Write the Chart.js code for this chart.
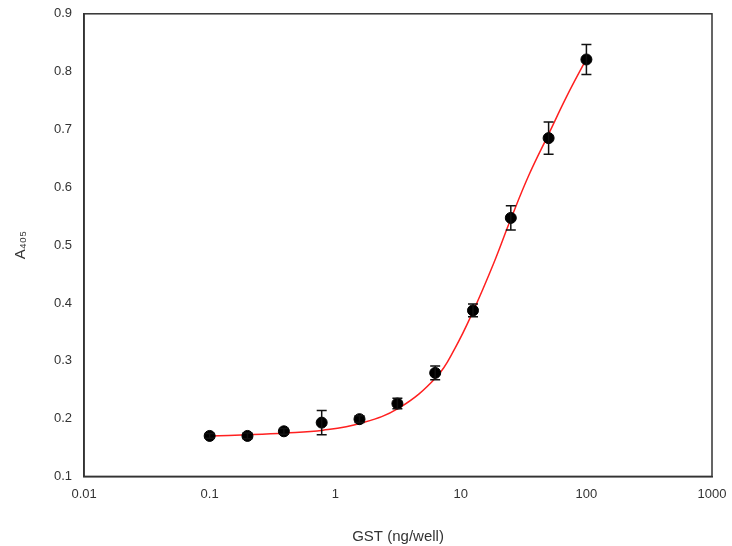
<!DOCTYPE html>
<html>
<head>
<meta charset="utf-8">
<script src="https://cdn.jsdelivr.net/npm/chart.js@4/dist/chart.umd.min.js"></script>
<style>
  html, body { margin: 0; padding: 0; background: #fff; }
  #wrap { width: 732px; height: 546px; }
</style>
</head>
<body>
<div id="wrap"><canvas id="mycanvas"></canvas></div>
<script>
// measured data (GST ng/well vs A405)
var gst = [0.1, 0.2, 0.39, 0.78, 1.56, 3.125, 6.25, 12.5, 25, 50, 100];
var a405 = [0.170, 0.170, 0.178, 0.193, 0.199, 0.226, 0.279, 0.387, 0.547, 0.685, 0.821];
var err = [0.004, 0.005, 0.005, 0.021, 0.006, 0.009, 0.012, 0.011, 0.021, 0.028, 0.026];

// fitted curve
var fitX = [0.1, 0.2, 0.4, 0.8, 1.6, 3.2, 6.4, 9, 12.5, 18, 25, 35, 50, 70, 100];
var fitY = [0.170, 0.172, 0.175, 0.180, 0.192, 0.218, 0.272, 0.322, 0.385, 0.465, 0.545, 0.622, 0.692, 0.758, 0.822];

var yTicks = [0.1, 0.2, 0.3, 0.4, 0.5, 0.6, 0.7, 0.8, 0.9];
var xTicks = [0.01, 0.1, 1, 10, 100, 1000];

var pts = [];
for (var i in gst) {
	pts.push({x: gst[i], y: a405[i]});
}
var fit = [];
for (var j in fitX) {
	fit.push({x: fitX[j], y: fitY[j]});
}

var errorBars = {
	id: 'errorBars',
	afterDatasetsDraw: function(chart) {
		var ctx = chart.ctx;
		var xs = chart.scales.x, ys = chart.scales.y;
		ctx.save();
		ctx.strokeStyle = '#111';
		ctx.lineWidth = 1.5;
		for (var i = 0; i < gst.length; i++) {
			var px = xs.getPixelForValue(gst[i]);
			var top = ys.getPixelForValue(a405[i] + err[i]);
			var bot = ys.getPixelForValue(a405[i] - err[i]);
			ctx.beginPath();
			ctx.moveTo(px, top); ctx.lineTo(px, bot);
			ctx.moveTo(px - 5, top); ctx.lineTo(px + 5, top);
			ctx.moveTo(px - 5, bot); ctx.lineTo(px + 5, bot);
			ctx.stroke();
		}
		ctx.restore();
	}
};

var frame = {
	id: 'frame',
	afterDraw: function(chart) {
		var a = chart.chartArea, ctx = chart.ctx;
		ctx.save();
		ctx.strokeStyle = '#333';
		ctx.lineWidth = 1.5;
		ctx.strokeRect(a.left, a.top, a.right - a.left, a.bottom - a.top);
		ctx.restore();
	}
};

var ctx1 = document.getElementById('mycanvas');
var chart = new Chart(ctx1, {
	type: 'scatter',
	data: {
		datasets: [
			{
				label: 'A405',
				data: pts,
				backgroundColor: '#000',
				borderColor: '#000',
				pointRadius: 5.5,
				order: 1
			},
			{
				label: 'fit',
				type: 'line',
				data: fit,
				showLine: true,
				borderColor: '#ff2020',
				borderWidth: 1.5,
				pointRadius: 0,
				fill: false,
				tension: 0.4,
				order: 2
			}
		]
	},
	options: {
		responsive: true,
		maintainAspectRatio: false,
		animation: false,
		layout: { padding: { top: 13, right: 20, left: 8, bottom: 0 } },
		plugins: {
			legend: { display: false },
			tooltip: { enabled: false }
		},
		scales: {
			x: {
				type: 'logarithmic',
				min: 0.01,
				max: 1000,
				afterBuildTicks: function(scale) {
					scale.ticks = xTicks.map(function(v) { return {value: v}; });
				},
				ticks: {
					color: '#333',
					font: { family: 'Liberation Sans, Arial, sans-serif', size: 13 },
					maxRotation: 0,
					padding: 4,
					callback: function(v) { return String(v); }
				},
				grid: { display: false, drawTicks: true, tickLength: 6, tickColor: '#333' },
				border: { color: '#333', width: 1.5 },
				title: {
					display: true,
					text: 'GST (ng/well)',
					color: '#333',
					font: { family: 'Liberation Sans, Arial, sans-serif', size: 15 },
					padding: { top: 22, bottom: 0 }
				}
			},
			y: {
				min: 0.1,
				max: 0.9,
				afterBuildTicks: function(scale) {
					scale.ticks = yTicks.map(function(v) { return {value: v}; });
				},
				ticks: {
					color: '#333',
					font: { family: 'Liberation Sans, Arial, sans-serif', size: 13 },
					padding: 6,
					callback: function(v) { return v.toFixed(1); }
				},
				grid: { display: false, drawTicks: true, tickLength: 6, tickColor: '#333' },
				border: { color: '#333', width: 1.5 },
				title: {
					display: true,
					text: 'A₄₀₅',
					color: '#333',
					font: { family: 'Liberation Sans, Arial, sans-serif', size: 15 },
					padding: { bottom: 18 }
				}
			}
		}
	},
	plugins: [errorBars, frame]
});
</script>
</body>
</html>
